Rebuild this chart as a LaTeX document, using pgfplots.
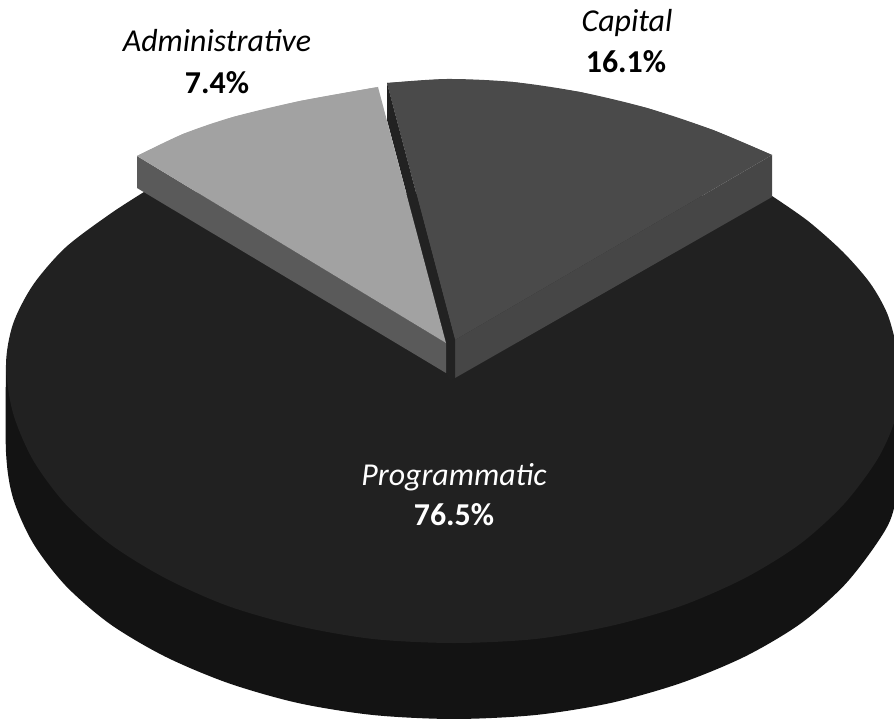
\documentclass[border=0pt]{standalone}
\usepackage{pgfplots}
\pgfplotsset{compat=1.18}
\usepackage{fontspec}
\setmainfont{Carlito}
\definecolor{progTop}{HTML}{212121}
\definecolor{progSide}{HTML}{131313}
\definecolor{capTop}{HTML}{4A4A4A}
\definecolor{capSide}{HTML}{464646}
\definecolor{admTop}{HTML}{A2A2A2}
\definecolor{admSide}{HTML}{5A5A5A}
\definecolor{strip}{HTML}{222222}
\begin{document}
\begin{tikzpicture}[x=1bp,y=1bp]
\begin{axis}[
    name=pie,
    scale only axis,
    width=894bp,
    height=719bp,
    xmin=0, xmax=894,
    ymin=0, ymax=719,
    y dir=reverse,
    hide axis,
    every axis plot/.append style={draw=none},
]
% front wall of the big slice
\addplot[fill=progSide, smooth] coordinates {
  (6,365) (6,452) (13,498) (33,543) (65.5,585.5) (110,624) (165,656.5) (228,683)
  (298,703) (373,715) (454,719) (535.5,715) (610.5,703) (681,683) (745,656.5)
  (800,624) (844,585.5) (877,543) (893,512) (902,452) (902,385)};
% programmatic top
\addplot[fill=progTop, smooth] coordinates {
  (144,192) (110,214) (65.5,247.5) (33,285) (13,324) (6,365) (13,413) (33,460)
  (65.5,504) (110,544) (165,578) (228,606) (298,626) (373,639) (454,643) (535.5,639)
  (610.5,626) (681,606) (745,578) (800,544) (844,504) (877,460) (894,423) (902,385)
  (896,345) (887,313) (870,283) (843,252) (808,221) (772,196)};
% capital
\addplot[fill=capSide] coordinates {(772,155) (772,197) (455,378) (455,340)};
\addplot[fill=capTop, smooth] coordinates {
  (387,83) (447,79) (513,82) (580,92) (647,108) (713,130) (772,155)};
\addplot[fill=capTop] coordinates {(387,83) (447,79) (513,82) (580,92) (647,108) (713,130) (772,155) (455,340)};
% gap wall between the slices
\addplot[fill=strip] coordinates {(387,83) (455,340) (455,378) (450,381) (446,373) (446,343) (387,120)};
% administrative
\addplot[fill=admSide] coordinates {(137,156) (137,188) (446,373) (446,343)};
\addplot[fill=admTop, smooth] coordinates {
  (137,156) (183,134) (233,117) (300,101) (378,87)};
\addplot[fill=admTop] coordinates {(137,156) (183,134) (233,117) (300,101) (378,87) (446,343)};
% labels
\node[font=\fontsize{32}{34}\selectfont\itshape] at (axis cs:627,23) {Capital};
\node[font=\fontsize{32}{34}\selectfont\bfseries] at (axis cs:626,62) {16.1\%};
\node[font=\fontsize{32}{34}\selectfont\itshape] at (axis cs:217,41) {Administrative};
\node[font=\fontsize{32}{34}\selectfont\bfseries] at (axis cs:217,83) {7.4\%};
\node[font=\fontsize{32}{34}\selectfont\itshape, text=white] at (axis cs:454,477) {Programmatic};
\node[font=\fontsize{32}{34}\selectfont\bfseries, text=white] at (axis cs:454,515) {76.5\%};
\end{axis}
\path (pie.south west) rectangle (pie.north east);
\end{tikzpicture}
\end{document}
